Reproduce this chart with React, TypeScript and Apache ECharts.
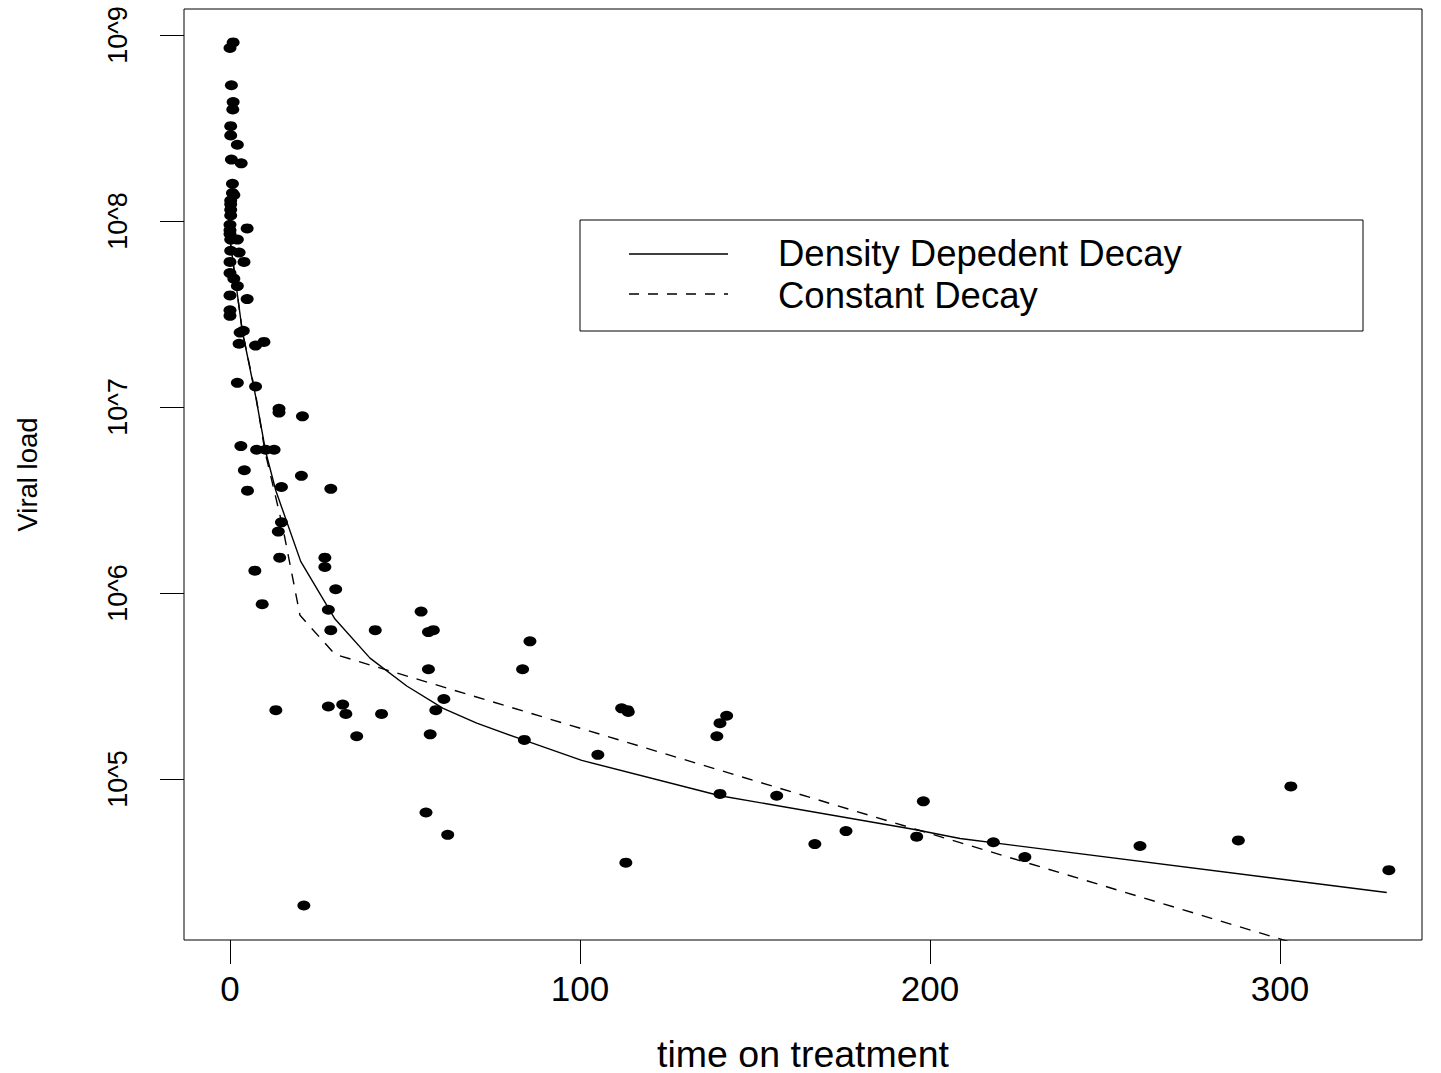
import React, { useEffect, useRef } from "react";
import * as echarts from "echarts";

// Observed data: time on treatment (days) and log10 of the viral load
const pointTime = [
  0, 0.9, 0.4, 0.9, 0.8, 0.2, 0.2, 2.1, 0.4, 3.2,
  0.7, 0.7, 1.1, 0.2, 0.2, 0.2, 0.2, 0, 0, 0,
  4.9, 0.2, 2.1, 0.2, 2.6, 4.0, 0, 0, 1.1, 2.1,
  0, 4.9, 0, 0, 3.8, 2.9, 2.6, 7.3, 9.7, 2.1,
  7.3, 14.0, 14.0, 20.7, 3.1, 7.6, 10.2, 12.6, 4.1, 20.4,
  5.0, 14.7, 28.8, 14.7, 13.8, 14.2, 27.1, 27.1, 7.1, 30.2,
  9.2, 28.1, 54.6, 28.8, 41.5, 56.7, 58.1, 56.7, 85.7, 83.6,
  61.1, 13.1, 28.1, 32.2, 33.1, 43.3, 58.8, 111.9, 113.6, 113.8,
  141.9, 140.0, 139.1, 36.2, 57.2, 84.1, 105.1, 140.0, 156.2, 198.1,
  56.0, 62.2, 176.0, 167.1, 196.2, 113.1, 218.1, 227.1, 260.0, 288.1,
  303.1, 331.1, 21.1,
];
const pointLog10Load = [
  8.93, 8.96, 8.73, 8.64, 8.6, 8.51, 8.46, 8.41, 8.33, 8.31,
  8.2, 8.15, 8.14, 8.11, 8.09, 8.06, 8.03, 7.98, 7.95, 7.93,
  7.96, 7.9, 7.9, 7.84, 7.83, 7.78, 7.78, 7.72, 7.69, 7.65,
  7.6, 7.58, 7.52, 7.49, 7.41, 7.4, 7.34, 7.33, 7.35, 7.13,
  7.11, 6.99, 6.97, 6.95, 6.79, 6.77, 6.77, 6.77, 6.66, 6.63,
  6.55, 6.57, 6.56, 6.38, 6.33, 6.19, 6.19, 6.14, 6.12, 6.02,
  5.94, 5.91, 5.9, 5.8, 5.8, 5.79, 5.8, 5.59, 5.74, 5.59,
  5.43, 5.37, 5.39, 5.4, 5.35, 5.35, 5.37, 5.38, 5.37, 5.36,
  5.34, 5.3, 5.23, 5.23, 5.24, 5.21, 5.13, 4.92, 4.91, 4.88,
  4.82, 4.7, 4.72, 4.65, 4.69, 4.55, 4.66, 4.58, 4.64, 4.67,
  4.96, 4.51, 4.32,
];

// Fitted curves
const densityTime = [0, 3.5, 7.3, 10.2, 13.1, 20.2, 30, 40, 50.5, 60.9, 70.5, 83.8, 100.5, 140, 195.2, 208.6, 330.5];
const densityLog10 = [7.9, 7.41, 7.06, 6.76, 6.55, 6.17, 5.86, 5.65, 5.5, 5.38, 5.3, 5.21, 5.1, 4.91, 4.73, 4.68, 4.39];
const constantTime = [0, 3.5, 7.3, 10, 15, 20, 30, 330];
const constantLog10 = [7.9, 7.41, 7.07, 6.76, 6.36, 5.88, 5.67, 3.97];

const xTicks = [0, 100, 200, 300];
const yTicks = [5, 6, 7, 8, 9];
const legendLabels = ["Density Depedent Decay", "Constant Decay"];
const xTitle = "time on treatment";
const yTitle = "Viral load";

const SANS = '"Liberation Sans", Arial, Helvetica, sans-serif';

export default function App() {
  const ref = useRef<HTMLDivElement>(null);

  useEffect(() => {
    if (!ref.current) return;
    const chart = echarts.init(ref.current, undefined, { renderer: "svg" });
    const legendText = (text: string, y: number) => ({
      type: "text",
      x: 778,
      y,
      style: {
        text,
        fill: "#000",
        fontFamily: SANS,
        fontSize: 36.5,
        lineHeight: 38,
        align: "left",
        verticalAlign: "middle",
      },
      z: 11,
    });
    const option = {
      animation: false,
      backgroundColor: "#fff",
      grid: {
        left: 184,
        top: 9,
        width: 1238,
        height: 931,
        containLabel: false,
        outerBoundsMode: "none",
        show: true,
        borderColor: "#000",
        borderWidth: 1,
        backgroundColor: "transparent",
      },
      xAxis: {
        type: "value",
        min: (184 - 230) / 3.5,
        max: (1422 - 230) / 3.5,
        splitLine: { show: false },
        axisLine: { show: false, onZero: false },
        axisTick: {
          show: true,
          customValues: xTicks,
          length: 24,
          lineStyle: { color: "#000", width: 1 },
        },
        axisLabel: {
          customValues: xTicks,
          color: "#000",
          fontFamily: SANS,
          fontSize: 35,
          margin: 31,
        },
        name: xTitle,
        nameLocation: "middle",
        nameGap: 95,
        nameTextStyle: { color: "#000", fontFamily: SANS, fontSize: 37.5, lineHeight: 37 },
      },
      yAxis: {
        type: "value",
        min: 5 - 161 / 186,
        max: 9 + 26 / 186,
        splitLine: { show: false },
        axisLine: { show: false, onZero: false },
        axisTick: {
          show: true,
          customValues: yTicks,
          length: 24,
          lineStyle: { color: "#000", width: 1 },
        },
        axisLabel: {
          customValues: yTicks,
          rotate: 90,
          color: "#000",
          fontFamily: SANS,
          fontSize: 27,
          margin: 53,
          formatter: (v: number) => "10^" + v,
        },
        name: yTitle,
        nameLocation: "middle",
        nameGap: 143,
        nameTextStyle: { color: "#000", fontFamily: SANS, fontSize: 27.5 },
      },
      graphic: [
        {
          type: "rect",
          shape: { x: 580, y: 220, width: 783, height: 111 },
          style: { fill: "#fff", stroke: "#000", lineWidth: 1 },
          z: 10,
        },
        {
          type: "line",
          shape: { x1: 629, y1: 254, x2: 728, y2: 254 },
          style: { stroke: "#000", lineWidth: 1.3 },
          z: 11,
        },
        {
          type: "line",
          shape: { x1: 629, y1: 294, x2: 728, y2: 294 },
          style: { stroke: "#000", lineWidth: 1.3, lineDash: [10, 9] },
          z: 11,
        },
        legendText(legendLabels[0], 253.5),
        legendText(legendLabels[1], 295),
      ],
      series: [
        {
          type: "scatter",
          data: pointTime.map((t, i) => [t, pointLog10Load[i]]),
          symbol: "circle",
          symbolSize: [13, 10],
          itemStyle: { color: "#000", opacity: 1 },
          z: 2,
        },
        {
          name: legendLabels[0],
          type: "line",
          data: densityTime.map((t, i) => [t, densityLog10[i]]),
          symbol: "none",
          showSymbol: false,
          lineStyle: { color: "#000", width: 1.4 },
          clip: true,
          z: 3,
        },
        {
          name: legendLabels[1],
          type: "line",
          data: constantTime.map((t, i) => [t, constantLog10[i]]),
          symbol: "none",
          showSymbol: false,
          lineStyle: { color: "#000", width: 1.4, type: [11, 9] },
          clip: true,
          z: 3,
        },
      ],
    };
    chart.setOption(option as any);
    return () => chart.dispose();
  }, []);

  return (
    <div
      ref={ref}
      style={{ position: "absolute", left: 0, top: 0, width: 1441, height: 1073 }}
    />
  );
}
